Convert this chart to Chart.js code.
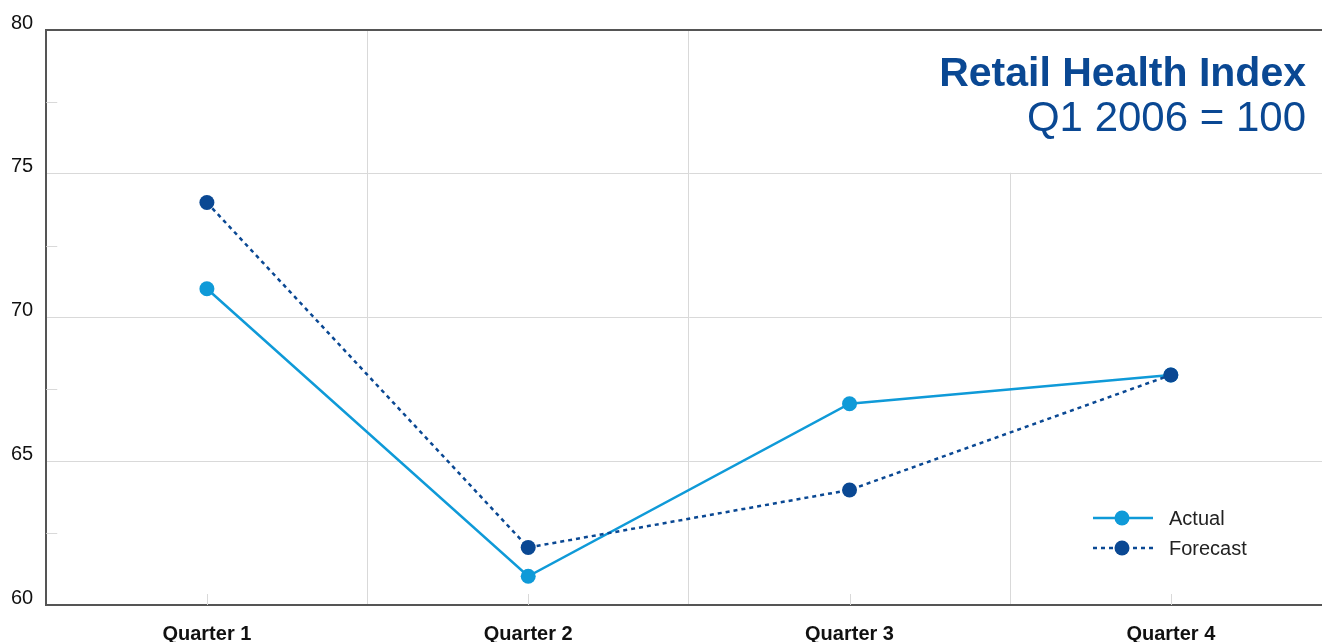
<!DOCTYPE html>
<html>
<head>
<meta charset="utf-8">
<script src="https://cdn.jsdelivr.net/npm/chart.js@4"></script>
<style>
  html, body { margin: 0; padding: 0; overflow: hidden; background: #fff; }
  #wrap { width: 1341px; height: 663px; margin-left: -2px; }
</style>
</head>
<body>
<div id="wrap"><canvas id="retailChart"></canvas></div>
<script>
// chart data
var quarters = ['Quarter 1', 'Quarter 2', 'Quarter 3', 'Quarter 4'];
var actualValues = [71, 61, 67, 68];
var forecastValues = [74, 62, 64, 68];
var minorTicks = [62.5, 67.5, 72.5, 77.5];
var titleLines = ['Retail Health Index', 'Q1 2006 = 100'];

var actualColor = '#0f9ad8';
var forecastColor = '#0a4893';
var gridColor = '#d9d9d9';
var axisColor = '#555555';
var fontFamily = '"Liberation Sans", Arial, Helvetica, sans-serif';

// title box, inner ticks and legend drawn on the canvas
var decorations = {
    id: 'decorations',
    beforeDatasetsDraw: function(chart) {
        var c = chart.ctx, area = chart.chartArea;
        var x = chart.scales.x, y = chart.scales.y;
        c.save();
        // white box behind the title
        c.fillStyle = '#fff';
        c.fillRect(900, area.top + 1, area.right - 900, y.getPixelForValue(75) - area.top - 2);

        // short inward ticks
        c.strokeStyle = gridColor;
        c.lineWidth = 1;
        c.beginPath();
        minorTicks.forEach(function(v) {
            var py = Math.round(y.getPixelForValue(v)) + 0.5;
            c.moveTo(area.left, py);
            c.lineTo(area.left + 11, py);
        });
        quarters.forEach(function(q, i) {
            var px = Math.round(x.getPixelForValue(i)) + 0.5;
            c.moveTo(px, area.bottom);
            c.lineTo(px, area.bottom - 11);
        });
        c.stroke();

        // title
        c.textAlign = 'right';
        c.textBaseline = 'alphabetic';
        c.fillStyle = forecastColor;
        c.font = 'bold 41px ' + fontFamily;
        c.fillText(titleLines[0], 1308, 86);
        c.font = '42px ' + fontFamily;
        c.fillText(titleLines[1], 1308, 131);
        c.restore();
    },
    afterDatasetsDraw: function(chart) {
        var c = chart.ctx;
        c.save();
        chart.data.datasets.forEach(function(ds, i) {
            var ly = 518 + i * 30;
            c.strokeStyle = ds.borderColor;
            c.lineWidth = ds.borderWidth;
            c.setLineDash(ds.borderDash || []);
            c.beginPath();
            c.moveTo(1095, ly);
            c.lineTo(1155, ly);
            c.stroke();
            c.setLineDash([]);
            c.fillStyle = ds.pointBackgroundColor;
            c.beginPath();
            c.arc(1124, ly, ds.pointRadius, 0, Math.PI * 2);
            c.fill();
            c.fillStyle = '#222';
            c.font = '20px ' + fontFamily;
            c.textAlign = 'left';
            c.textBaseline = 'middle';
            c.fillText(ds.label, 1171, ly + 1);
        });
        c.restore();
    }
};

var ctx = document.getElementById('retailChart').getContext('2d');
var retailChart = new Chart(ctx, {
    type: 'line',
    data: {
        labels: quarters,
        datasets: [{
            label: 'Actual',
            data: actualValues,
            borderColor: actualColor,
            backgroundColor: actualColor,
            pointBackgroundColor: actualColor,
            pointBorderWidth: 0,
            pointRadius: 7.5,
            borderWidth: 2.5,
            tension: 0,
            order: 1
        }, {
            label: 'Forecast',
            data: forecastValues,
            borderColor: forecastColor,
            backgroundColor: forecastColor,
            pointBackgroundColor: forecastColor,
            pointBorderWidth: 0,
            pointRadius: 7.5,
            borderWidth: 2.5,
            borderDash: [4, 4],
            tension: 0,
            order: 0
        }]
    },
    options: {
        responsive: true,
        maintainAspectRatio: false,
        animation: false,
        layout: {
            padding: { left: 0, top: 30, right: 4, bottom: 0 }
        },
        plugins: {
            legend: { display: false },
            tooltip: { enabled: false }
        },
        scales: {
            x: {
                offset: true,
                grid: {
                    offset: true,
                    color: gridColor,
                    lineWidth: 1,
                    drawTicks: false
                },
                border: { color: axisColor, width: 2 },
                ticks: {
                    color: '#111',
                    padding: 17,
                    font: { family: fontFamily, size: 20, weight: '600' }
                }
            },
            y: {
                min: 60,
                max: 80,
                grid: {
                    color: function(c) { return c.tick && c.tick.value === 80 ? axisColor : gridColor; },
                    lineWidth: function(c) { return c.tick && c.tick.value === 80 ? 2 : 1; },
                    drawTicks: false
                },
                border: { color: axisColor, width: 2 },
                ticks: {
                    stepSize: 5,
                    color: '#111',
                    padding: 13,
                    labelOffset: -7,
                    font: { family: fontFamily, size: 20 }
                }
            }
        }
    },
    plugins: [decorations]
});
</script>
</body>
</html>
